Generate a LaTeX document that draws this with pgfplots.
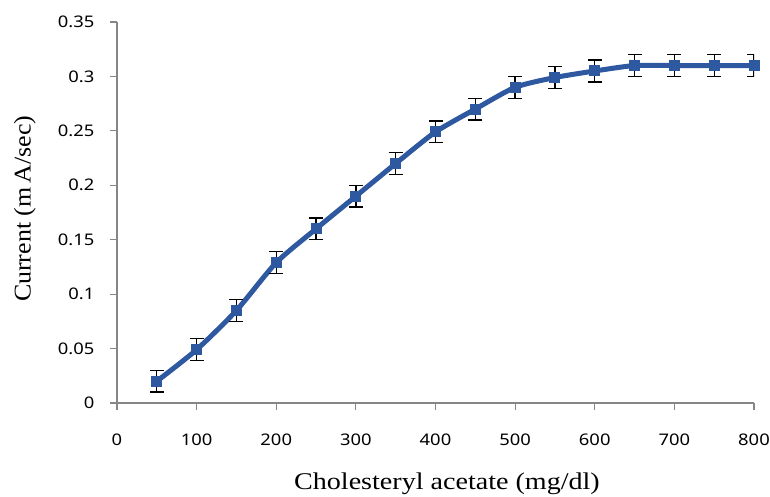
\documentclass[border=0pt]{standalone}
\usepackage{fontspec}
\setmainfont{Liberation Serif}
\newfontfamily\tickfont{Noto Sans}
\usepackage{pgfplots}
\pgfplotsset{compat=1.18}
\definecolor{lineblue}{RGB}{46,88,160}
\definecolor{axgray}{RGB}{134,134,134}
\begin{document}
\begin{tikzpicture}
\begin{axis}[
  scale only axis,
  width=637pt, height=381pt,
  xmin=0, xmax=800, ymin=0, ymax=0.35,
  xtick={0,100,...,800},
  ytick={0,0.05,0.1,0.15,0.2,0.25,0.3,0.35},
  yticklabels={0,0.05,0.1,0.15,0.2,0.25,0.3,0.35},
  xticklabels={0,100,200,300,400,500,600,700,800},
  axis x line*=bottom, axis y line*=left,
  axis line style={axgray, line width=1.2pt, -},
  tick style={axgray, line width=1.2pt},
  tick align=outside,
  major tick length=7pt,
  tick label style={font=\tickfont\fontsize{16}{16}\selectfont, xscale=1.15},
  xticklabel style={yshift=-20pt},
  yticklabel style={xshift=-10pt},
  xlabel={Cholesteryl acetate (mg/dl)},
  ylabel={Current (m\,A/sec)},
  label style={font=\fontsize{24}{24}\selectfont},
  xlabel style={at={(axis description cs:0.518,-0.212)}, anchor=center, xscale=1.17},
  ylabel style={at={(axis description cs:-0.1445,0.51)}, anchor=center, xscale=1.08},
]
\addplot[lineblue, line width=5pt, smooth, tension=0.4,
  mark=square*, mark size=5pt, mark options={lineblue, line width=0pt},
  error bars/.cd, y dir=both, y explicit,
  error bar style={black, line width=1.3pt},
  error mark options={rotate=90, mark size=7pt, black, line width=1.3pt}]
coordinates {
(50,0.020) +- (0,0.01)
(100,0.049) +- (0,0.01)
(150,0.085) +- (0,0.01)
(200,0.129) +- (0,0.01)
(250,0.160) +- (0,0.01)
(300,0.190) +- (0,0.01)
(350,0.220) +- (0,0.01)
(400,0.249) +- (0,0.01)
(450,0.270) +- (0,0.01)
(500,0.290) +- (0,0.01)
(550,0.299) +- (0,0.01)
(600,0.305) +- (0,0.01)
(650,0.310) +- (0,0.01)
(700,0.310) +- (0,0.01)
(750,0.310) +- (0,0.01)
(800,0.310) +- (0,0.01)
};
\end{axis}
\pgfresetboundingbox
\path (-117pt,-94pt) rectangle (653pt,403pt);
\end{tikzpicture}
\end{document}
